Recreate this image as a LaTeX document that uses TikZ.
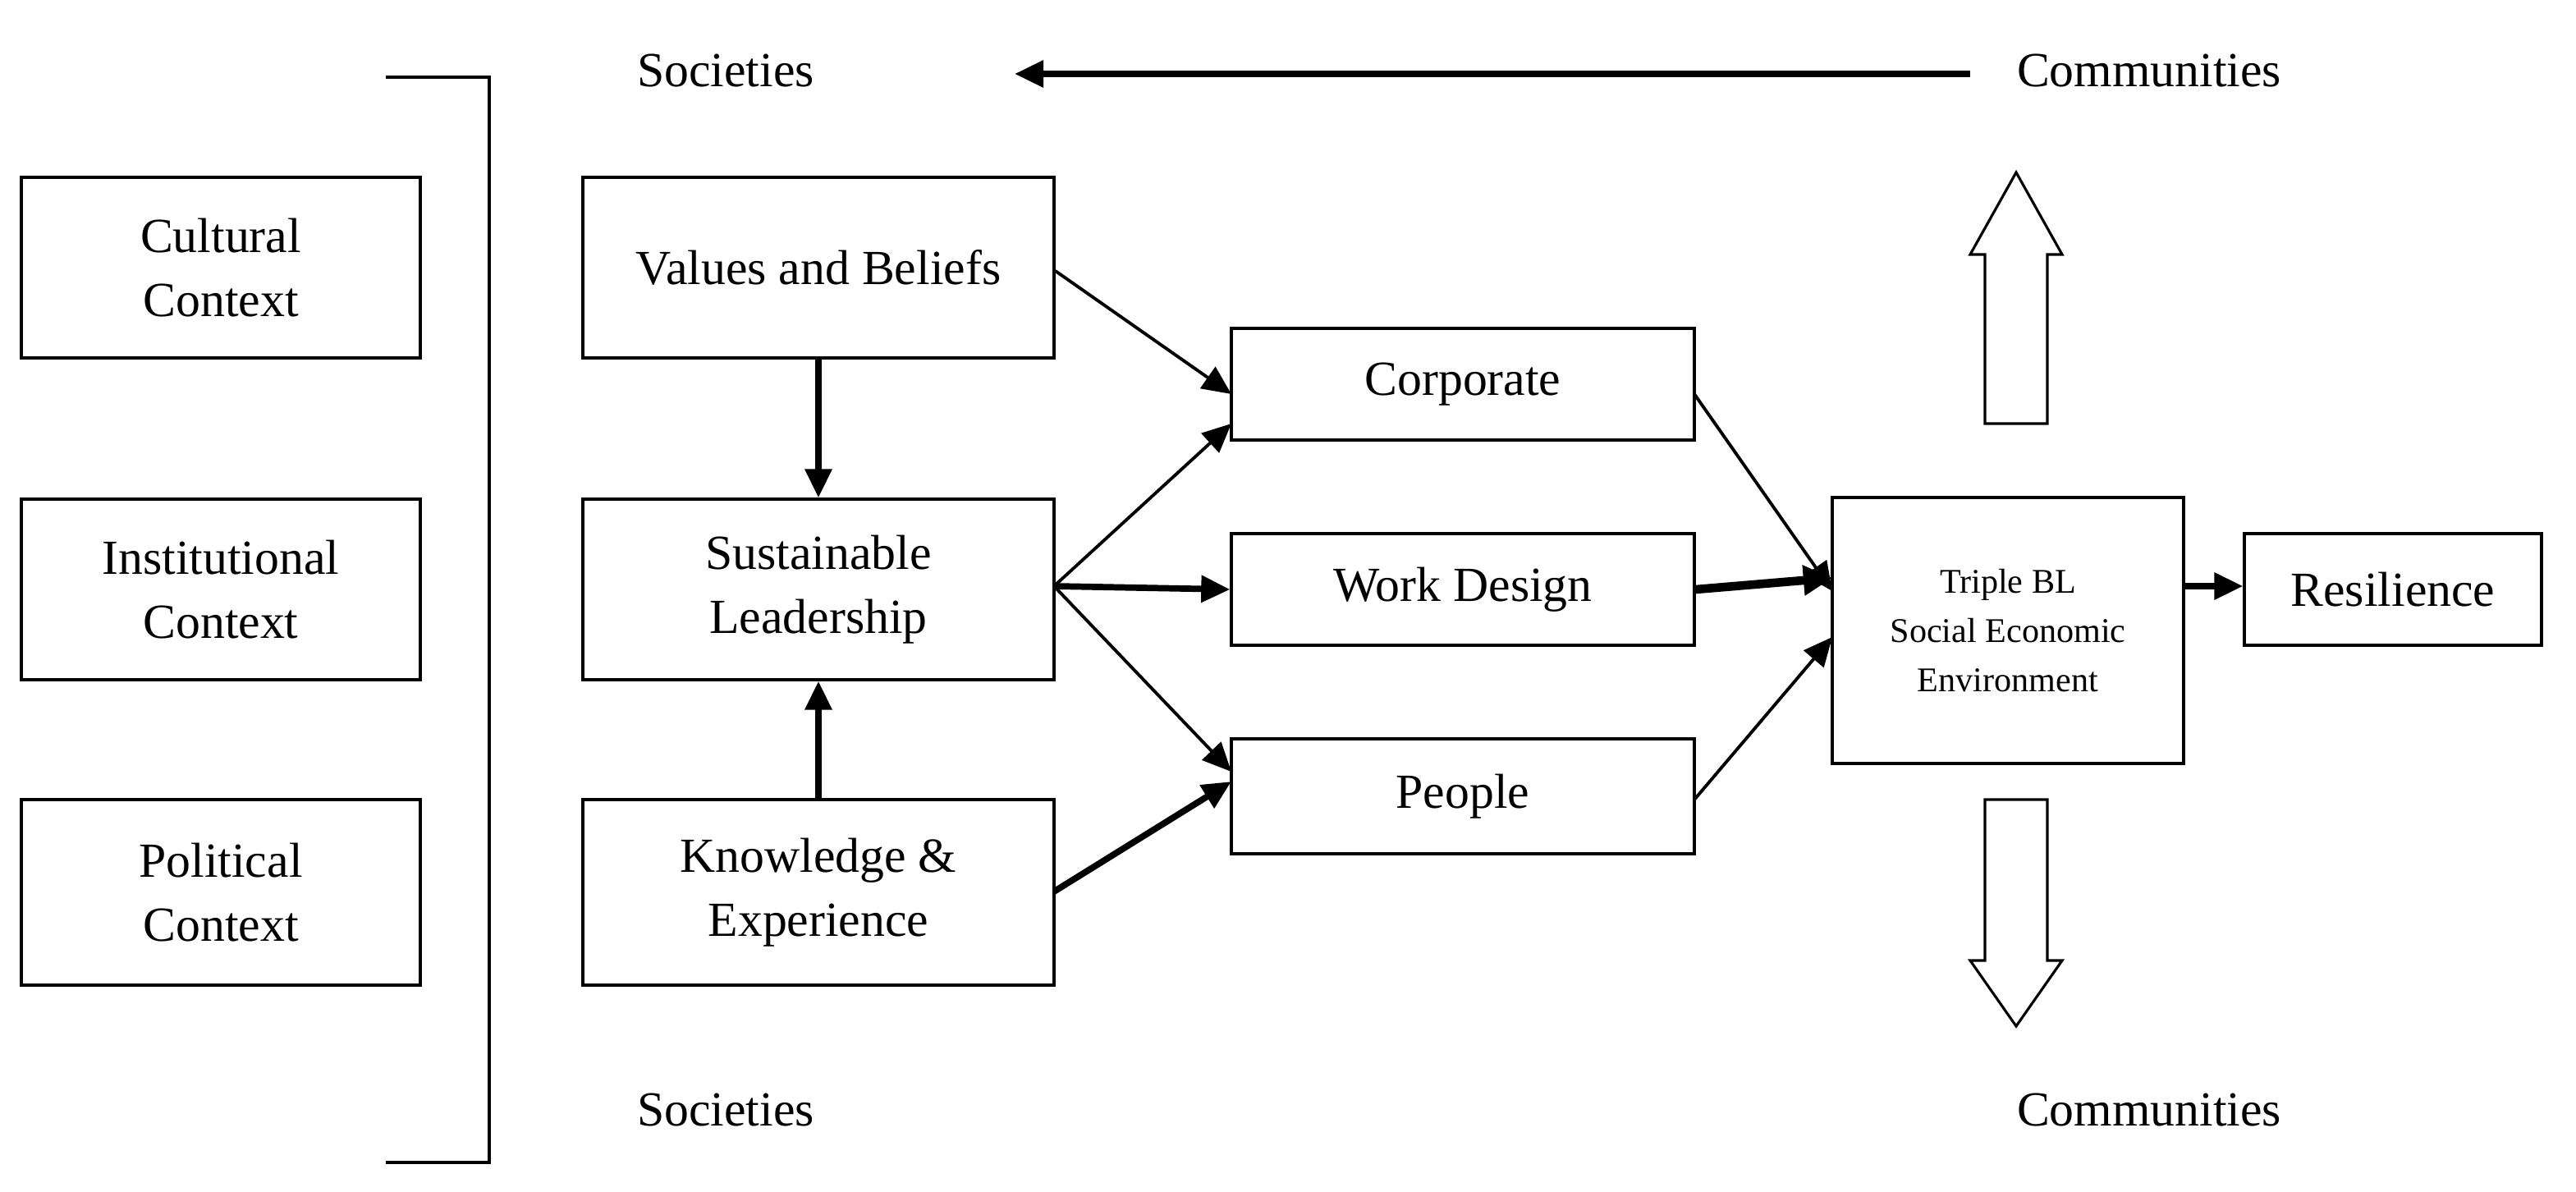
\documentclass[tikz,border=0pt]{standalone}
\usetikzlibrary{arrows.meta}
\usepackage{fontspec}
\setmainfont{Liberation Serif}
\begin{document}
\begin{tikzpicture}[x=0.02cm,y=-0.02cm,
  box/.style={draw,line width=0.9pt,inner sep=0pt,align=center,font=\fontsize{17}{22}\selectfont},
  lbl/.style={font=\fontsize{17}{22}\selectfont},
  hollow/.style={draw,line width=0.9pt,line join=miter},
  arr/.style={-{Triangle[length=10pt,width=9pt]},line width=1.1pt},
  tarr/.style={-{Triangle[length=10pt,width=9pt]},line width=2.2pt}]
\useasboundingbox (0,0) rectangle (1569,725.5);
\node[box,minimum width=243*0.02cm,minimum height=110*0.02cm] (cul) at (134.5,163) {Cultural\\Context};
\node[box,minimum width=243*0.02cm,minimum height=110*0.02cm] (ins) at (134.5,359) {Institutional\\Context};
\node[box,minimum width=243*0.02cm,minimum height=113*0.02cm] (pol) at (134.5,543.5) {Political\\Context};
\coordinate (b1) at (235,47); \coordinate (b2) at (298,47); \coordinate (b3) at (298,708); \coordinate (b4) at (235,708);
\draw[line width=0.9pt] (b1) -- (b2) -- (b3) -- (b4);
\node[box,minimum width=287*0.02cm,minimum height=110*0.02cm] (val) at (498.5,163) {Values and Beliefs};
\node[box,minimum width=287*0.02cm,minimum height=110*0.02cm] (sl) at (498.5,359) {Sustainable\\Leadership};
\node[box,minimum width=287*0.02cm,minimum height=113*0.02cm] (kn) at (498.5,543.5) {Knowledge \&\\Experience};
\node[box,minimum width=282*0.02cm,minimum height=68*0.02cm] (cor) at (891,234) {Corporate};
\node[box,minimum width=282*0.02cm,minimum height=68*0.02cm] (wd) at (891,359) {Work Design};
\node[box,minimum width=282*0.02cm,minimum height=70*0.02cm] (peo) at (891,485) {People};
\node[box,minimum width=214*0.02cm,minimum height=162*0.02cm,font=\fontsize{12}{17}\selectfont] (tbl) at (1223,384) {Triple BL\\Social Economic\\Environment};
\node[box,minimum width=181*0.02cm,minimum height=68*0.02cm] (res) at (1457.5,359) {Resilience};
\node[lbl] (s1) at (442,43) {Societies};
\node[lbl] (c1) at (1309,43) {Communities};
\node[lbl] (s2) at (442,676) {Societies};
\node[lbl] (c2) at (1309,676) {Communities};
\coordinate (ta) at (1200,45); \coordinate (tb) at (618,45);
\draw[tarr] (ta) -- (tb);
\draw[hollow] (1209,258) -- (1209,155) -- (1200,155) -- (1228,105) -- (1256,155) -- (1247,155) -- (1247,258) -- cycle;
\draw[hollow] (1209,487) -- (1209,585) -- (1200,585) -- (1228,625) -- (1256,585) -- (1247,585) -- (1247,487) -- cycle;
\draw[arr] (val.east|-0,165) -- (750,240);
\draw[tarr] (val.south) -- (sl.north);
\draw[tarr] (kn.north) -- (sl.south);
\coordinate (slo) at (642,357);
\draw[arr] (slo) -- (750,258);
\draw[tarr] (slo) -- (wd.west);
\draw[arr] (slo) -- (750,470);
\draw[tarr] (642,543) -- (750,476);
\draw[arr] (1032,240) -- (1116,360);
\draw[line width=3pt,-{Triangle[length=10pt,width=10pt]}] (wd.east) -- (1116,352);
\draw[arr] (1032,487) -- (1116,388);
\draw[tarr] (tbl.east|-0,357) -- (res.west|-0,357);
\end{tikzpicture}
\end{document}
